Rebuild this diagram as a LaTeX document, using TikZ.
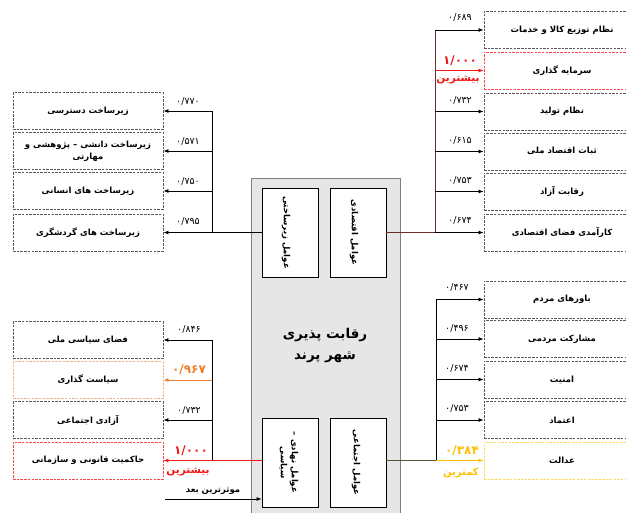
\documentclass[tikz,border=0pt]{standalone}
\usepackage{fontspec}
\TeXXeTstate=1
\newfontfamily\arabicfont[Script=Arabic]{DejaVu Sans}
\newfontfamily\numfont{DejaVu Sans}
\usetikzlibrary{arrows.meta}
\definecolor{redc}{HTML}{F01818}
\definecolor{redbox}{HTML}{FF4545}
\definecolor{orangec}{HTML}{ED7D31}
\definecolor{orangebox}{HTML}{F4B183}
\definecolor{yellowc}{HTML}{FFC000}
\definecolor{yellowbox}{HTML}{FFD966}
\definecolor{dashgray}{HTML}{595959}
\definecolor{brownl}{HTML}{6E2C2C}
\definecolor{sociall}{HTML}{5A5040}
\definecolor{corefill}{HTML}{E6E6E6}
\definecolor{coredraw}{HTML}{7F7F7F}
\newcommand{\fa}[1]{\arabicfont\beginR #1\endR}
\tikzset{
  leaf/.style={draw=dashgray, line width=0.9pt, dash pattern=on 2.5pt off 1.2pt, fill=white,
    minimum height=37pt, inner sep=1pt, align=center, font=\arabicfont\bfseries\fontsize{8.5}{12}\selectfont},
  rleaf/.style={leaf, minimum width=156pt},
  lleaf/.style={leaf, minimum width=150pt},
  inbox/.style={draw=black, line width=0.8pt, fill=white, minimum width=56pt, minimum height=89pt, inner sep=0pt},
  rot/.style={rotate=-90, align=center, inner sep=0pt, font=\arabicfont\bfseries\fontsize{8.5}{11}\selectfont},
  val/.style={inner sep=0pt, font=\numfont\fontsize{9.5}{10}\selectfont},
  big/.style={inner sep=0pt, font=\arabicfont\bfseries\fontsize{12}{13}\selectfont},
  bigw/.style={inner sep=0pt, font=\arabicfont\bfseries\fontsize{10.5}{12}\selectfont},
  conn/.style={line width=0.8pt},
  arr/.style={conn, -{Latex[length=5pt,width=4pt]}},
}
\begin{document}
\begin{tikzpicture}[x=1pt,y=-1pt]
\clip (0,0) rectangle (626,513);
% core
\node[draw=coredraw, fill=corefill, line width=1.2pt, minimum width=149pt, minimum height=345pt, anchor=north west, inner sep=0pt] (core) at (251,178) {};
\node[inner sep=0pt, align=center, font=\arabicfont\bfseries\fontsize{13.5}{21}\selectfont] (title) at (325,346) {\fa{رقابت پذیری}\\\fa{شهر پرند}};
\node[inbox] (infra) at (290,232.5) {};
\node[inbox] (econ) at (358,232.5) {};
\node[inbox] (pol) at (290,462.5) {};
\node[inbox] (social) at (358,462.5) {};
\node[rot] (infrat) at ([xshift=-4pt]infra.center) {\fa{عوامل زیرساختی}};
\node[rot] (econt) at ([xshift=-4pt]econ.center) {\fa{عوامل اقتصادی}};
\node[rot] (polt) at ([xshift=-1pt]pol.center) {\fa{عوامل نهادی –}\\\fa{سیاسی}};
\node[rot] (socialt) at ([xshift=-2pt]social.center) {\fa{عوامل اجتماعی}};
% right top boxes
\node[rleaf] (r1) at (562,30) {\fa{نظام توزیع کالا و خدمات}};
\node[rleaf, draw=redbox] (r2) at (562,70.5) {\fa{سرمایه گذاری}};
\node[rleaf] (r3) at (562,111.5) {\fa{نظام تولید}};
\node[rleaf] (r4) at (562,151.5) {\fa{ثبات اقتصاد ملی}};
\node[rleaf] (r5) at (562,191.5) {\fa{رقابت آزاد}};
\node[rleaf] (r6) at (562,232.5) {\fa{کارآمدی فضای اقتصادی}};
% right bottom boxes
\node[rleaf] (r7) at (562,299.5) {\fa{باورهای مردم}};
\node[rleaf] (r8) at (562,339) {\fa{مشارکت مردمی}};
\node[rleaf] (r9) at (562,379.5) {\fa{امنیت}};
\node[rleaf] (r10) at (562,420) {\fa{اعتماد}};
\node[rleaf, draw=yellowbox] (r11) at (562,460.5) {\fa{عدالت}};
% left top boxes
\node[lleaf] (l1) at (88,111) {\fa{زیرساخت دسترسی}};
\node[lleaf] (l2) at (88,151) {\fa{زیرساخت دانشی – پژوهشی و}\\\fa{مهارتی}};
\node[lleaf] (l3) at (88,191) {\fa{زیرساخت های انسانی}};
\node[lleaf] (l4) at (88,232.5) {\fa{زیرساخت های گردشگری}};
% left bottom boxes
\node[lleaf] (l5) at (88,340) {\fa{فضای سیاسی ملی}};
\node[lleaf, draw=orangebox] (l6) at (88,380) {\fa{سیاست گذاری}};
\node[lleaf] (l7) at (88,420) {\fa{آزادی اجتماعی}};
\node[lleaf, draw=redbox] (l8) at (88,460.5) {\fa{حاکمیت قانونی و سازمانی}};
% junction coordinates
\coordinate (jr1) at (435,232.5);
\coordinate (jr2) at (436,460.5);
\coordinate (jl1) at (212,232.5);
\coordinate (jl2) at (212,460.5);
% economic branch
\draw[conn, brownl] (econ.east) -- (jr1) -- (jr1 |- r1.west);
\draw[arr] (jr1 |- r1.west) -- (r1.west);
\draw[arr, redc] (jr1 |- r2.west) -- (r2.west);
\draw[arr] (jr1 |- r3.west) -- (r3.west);
\draw[arr] (jr1 |- r4.west) -- (r4.west);
\draw[arr] (jr1 |- r5.west) -- (r5.west);
\draw[arr] (jr1) -- (r6.west);
% social branch
\draw[conn, sociall] (r11.west -| social.east) -- (jr2);
\draw[conn] (jr2) -- (jr2 |- r7.west);
\draw[arr] (jr2 |- r7.west) -- (r7.west);
\draw[arr] (jr2 |- r8.west) -- (r8.west);
\draw[arr] (jr2 |- r9.west) -- (r9.west);
\draw[arr] (jr2 |- r10.west) -- (r10.west);
\draw[arr, yellowc] (jr2) -- (r11.west);
% infrastructure branch
\draw[conn] (infra.west) -- (jl1) -- (jl1 |- l1.east);
\draw[arr] (jl1 |- l1.east) -- (l1.east);
\draw[arr] (jl1 |- l2.east) -- (l2.east);
\draw[arr] (jl1 |- l3.east) -- (l3.east);
\draw[arr] (jl1) -- (l4.east);
% political branch
\draw[conn] (jl2) -- (jl2 |- l5.east);
\draw[arr] (jl2 |- l5.east) -- (l5.east);
\draw[arr, orangec] (jl2 |- l6.east) -- (l6.east);
\draw[arr] (jl2 |- l7.east) -- (l7.east);
\draw[arr, redc] (l8.east -| pol.west) -- (l8.east);
% most effective
\coordinate (mfrom) at (165,499);
\draw[arr] (mfrom) -- (mfrom -| pol.west);
\node[inner sep=0pt, font=\arabicfont\bfseries\fontsize{8.5}{9}\selectfont] (mlab) at (213,491) {\fa{موثرترین بعد}};
% values right top
\node[val] (v1) at (460,17) {\arabicfont ۰/۶۸۹};
\node[big, text=redc] (v2) at (460,61) {\arabicfont ۱/۰۰۰};
\node[bigw, text=redc] (v2b) at (458,80) {\fa{بیشترین}};
\node[val] (v3) at (460,100) {\arabicfont ۰/۷۳۲};
\node[val] (v4) at (460,140) {\arabicfont ۰/۶۱۵};
\node[val] (v5) at (460,180) {\arabicfont ۰/۷۵۳};
\node[val] (v6) at (460,220) {\arabicfont ۰/۶۷۴};
% values right bottom
\node[val] (v7) at (457,287) {\arabicfont ۰/۴۶۷};
\node[val] (v8) at (457,328) {\arabicfont ۰/۴۹۶};
\node[val] (v9) at (457,368) {\arabicfont ۰/۶۷۴};
\node[val] (v10) at (457,408) {\arabicfont ۰/۷۵۳};
\node[big, text=yellowc] (v11) at (462,451) {\arabicfont ۰/۳۸۴};
\node[bigw, text=yellowc, font=\arabicfont\bfseries\fontsize{10}{11}\selectfont] (v11b) at (461,473) {\fa{کمترین}};
% values left top
\node[val] (w1) at (188,101) {\arabicfont ۰/۷۷۰};
\node[val] (w2) at (188,141) {\arabicfont ۰/۵۷۱};
\node[val] (w3) at (188,181) {\arabicfont ۰/۷۵۰};
\node[val] (w4) at (188,221) {\arabicfont ۰/۷۹۵};
% values left bottom
\node[val] (w5) at (189,329) {\arabicfont ۰/۸۴۶};
\node[big, text=orangec] (w6) at (189,370) {\arabicfont ۰/۹۶۷};
\node[val] (w7) at (189,410) {\arabicfont ۰/۷۳۲};
\node[big, text=redc] (w8) at (191,451) {\arabicfont ۱/۰۰۰};
\node[bigw, text=redc] (w8b) at (188,472) {\fa{بیشترین}};
\end{tikzpicture}
\end{document}
